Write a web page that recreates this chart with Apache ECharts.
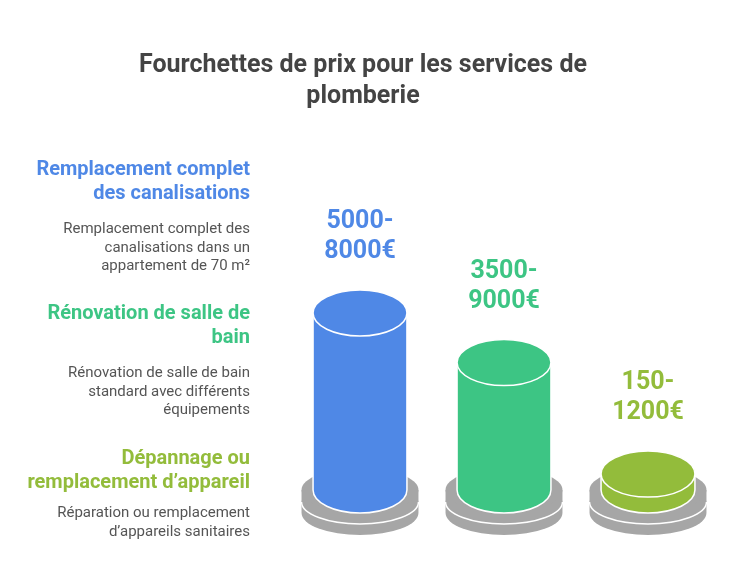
<!DOCTYPE html>
<html>
<head>
<meta charset="utf-8">
<script src="https://cdn.jsdelivr.net/npm/echarts@6/dist/echarts.min.js"></script>
<style>
  html, body { margin: 0; padding: 0; background: #fff; }
  #main { width: 732px; height: 573px; }
</style>
</head>
<body>
<div id="main"></div>
<script>
// data
var headings = [
    'Remplacement complet\ndes canalisations',
    'Rénovation de salle de\nbain',
    'Dépannage ou\nremplacement d’appareil'
];
var descriptions = [
    'Remplacement complet des\ncanalisations dans un\nappartement de 70 m²',
    'Rénovation de salle de bain\nstandard avec différents\néquipements',
    'Réparation ou remplacement\nd’appareils sanitaires'
];
var priceMin = [5000, 3500, 150];
var priceMax = [8000, 9000, 1200];
// relative cylinder height as drawn (tallest = 100)
var levels = [100, 72, 9];
var colors = ['#4F88E6', '#3DC584', '#93BC3B'];

var FONT = 'Roboto, "Noto Sans", sans-serif';

function ellipsePath(cx, cy, rx, ry) {
    return 'M' + (cx - rx) + ',' + cy +
        ' A' + rx + ',' + ry + ' 0 1 0 ' + (cx + rx) + ',' + cy +
        ' A' + rx + ',' + ry + ' 0 1 0 ' + (cx - rx) + ',' + cy + ' Z';
}
// side + lower half, from top centre yT to bottom centre yB
function sidePath(cx, yT, yB, rx, ry) {
    return 'M' + (cx - rx) + ',' + yT +
        ' L' + (cx - rx) + ',' + yB +
        ' A' + rx + ',' + ry + ' 0 0 0 ' + (cx + rx) + ',' + yB +
        ' L' + (cx + rx) + ',' + yT + ' Z';
}
function lowerArc(cx, cy, rx, ry) {
    return 'M' + (cx - rx) + ',' + cy +
        ' A' + rx + ',' + ry + ' 0 0 0 ' + (cx + rx) + ',' + cy;
}

function renderItem(params, api) {
    var i = api.value(0);
    var base = api.coord([i, 0]);
    var top = api.coord([i, api.value(1)]);
    var unit = api.size([1, 0])[0];
    var cx = base[0], yB = base[1], yT = top[1];
    var rx = unit * 0.326, ry = rx * 0.49;
    var R = unit * 0.406, r = 22;
    var gray = '#A6A6A6';
    var col = colors[i];
    var children = [
        // lower base disc
        { type: 'path', shape: { pathData: sidePath(cx, yB + 13, yB + 23, R, r) }, style: { fill: gray } },
        { type: 'path', shape: { pathData: ellipsePath(cx, yB + 13, R, r) }, style: { fill: gray } },
        // upper base disc
        { type: 'path', shape: { pathData: sidePath(cx, yB, yB + 12, R, r) }, style: { fill: gray } },
        { type: 'path', shape: { pathData: ellipsePath(cx, yB, R, r) }, style: { fill: gray } },
        { type: 'path', shape: { pathData: lowerArc(cx, yB + 12, R, r) }, style: { fill: null, stroke: '#fff', lineWidth: 1.5 } },
        // cylinder
        { type: 'path', shape: { pathData: sidePath(cx, yT, yB, rx, ry) }, style: { fill: col, stroke: '#fff', lineWidth: 1.5 } },
        { type: 'path', shape: { pathData: ellipsePath(cx, yT, rx, ry) }, style: { fill: col, stroke: '#fff', lineWidth: 1.5 } },
        // price label
        {
            type: 'text',
            style: {
                x: cx, y: yT - ry - 23,
                text: priceMin[i] + '-\n' + priceMax[i] + '€',
                fill: col, font: 'bold 25px ' + FONT,
                align: 'center', verticalAlign: 'bottom', lineHeight: 30
            }
        }
    ];
    return { type: 'group', children: children };
}

var headTops = [158, 302, 447];
var descTops = [220, 364, 504];
var graphics = [];
for (var k = 0; k < headings.length; k++) {
    graphics.push({
        type: 'text', x: 250, y: headTops[k],
        style: {
            text: headings[k], fill: colors[k], font: 'bold 20px ' + FONT,
            align: 'right', verticalAlign: 'top', lineHeight: 24
        }
    });
    graphics.push({
        type: 'text', x: 250, y: descTops[k],
        style: {
            text: descriptions[k], fill: '#555', font: '15px ' + FONT,
            align: 'right', verticalAlign: 'top', lineHeight: 18.5
        }
    });
}

var chart = echarts.init(document.getElementById('main'));
chart.setOption({
    animation: false,
    title: {
        text: 'Fourchettes de prix pour les services de\nplomberie',
        left: 358, textAlign: 'center', top: 45,
        textStyle: { fontFamily: FONT, fontSize: 25, fontWeight: 'bold', color: '#444', lineHeight: 31, align: 'center' }
    },
    grid: { left: 288, right: 12, top: 313, bottom: 83 },
    xAxis: { type: 'category', data: [0, 1, 2], show: false },
    yAxis: { type: 'value', min: 0, max: 100, show: false },
    graphic: graphics,
    series: [{
        type: 'custom',
        renderItem: renderItem,
        encode: { x: 0, y: 1 },
        data: levels.map(function (v, i) { return [i, v]; })
    }]
});
</script>
</body>
</html>
